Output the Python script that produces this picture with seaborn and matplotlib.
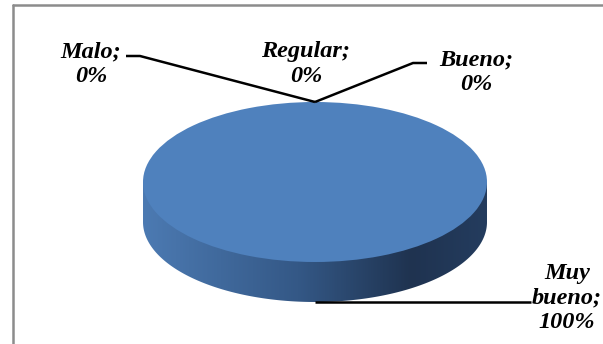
import numpy as np
import matplotlib
matplotlib.use("Agg")
import matplotlib.pyplot as plt
import seaborn as sns
from matplotlib.patches import Polygon
from matplotlib.lines import Line2D
from matplotlib.colors import LinearSegmentedColormap

categories = ["Malo", "Regular", "Bueno", "Muy bueno"]
values = [0, 0, 0, 100]
percent_labels = ["0%", "0%", "0%", "100%"]

sns.set_theme(style="white")
plt.rcParams['font.family'] = ['Liberation Serif', 'DejaVu Serif']

W, H = 603, 344
fig = plt.figure(figsize=(W / 100, H / 100), dpi=100)
fig.patch.set_facecolor("white")
ax = fig.add_axes([0, 0, 1, 1])

cx, cy, rx, ry, depth = 315, 182, 172, 80, 40
d = depth / ry


def px(x, y):
    return ((x - cx) / rx, (cy - y) / ry)


blue = "#4F81BD"
wedges, _ = ax.pie(values, colors=[blue] * len(values), startangle=90,
                   counterclock=False, radius=1, center=(0, 0),
                   wedgeprops=dict(linewidth=0))
for w in wedges:
    w.set_zorder(3)

ax.set_aspect("auto")
ax.axis("off")

# 3D side of the pie
theta = np.linspace(np.pi, 2 * np.pi, 300)
arc = np.column_stack([np.cos(theta), np.sin(theta) - d])
pts = np.vstack([[[-1, 0]], arc, [[1, 0]]])
side = Polygon(pts, closed=True, facecolor="none", edgecolor="none")
ax.add_patch(side)
cmap = LinearSegmentedColormap.from_list(
    "side",
    [(0.0, (76/255, 122/255, 178/255)),
     (0.45, (52/255, 88/255, 134/255)),
     (0.78, (31/255, 51/255, 80/255)),
     (1.0, (36/255, 60/255, 94/255))])
grad = np.linspace(0, 1, 400).reshape(1, -1)
im = ax.imshow(grad, cmap=cmap, extent=(-1, 1, -1 - d, 0), aspect="auto",
               zorder=2, interpolation="bilinear")
im.set_clip_path(side)
ax.set_xlim((0 - cx) / rx, (W - cx) / rx)
ax.set_ylim((cy - H) / ry, (cy - 0) / ry)

# leader lines
lk = dict(color="black", lw=1.8, zorder=4, solid_capstyle="butt")
top = (0, 1)
p1, p2 = px(126, 56), px(140, 56)
ax.plot([p1[0], p2[0], top[0]], [p1[1], p2[1], top[1]], **lk)
p3, p4 = px(413, 63), px(427, 63)
ax.plot([top[0], p3[0], p4[0]], [top[1], p3[1], p4[1]], **lk)
bot = (0, -1 - d)
p5 = px(531, 0)
ax.plot([bot[0], p5[0]], [bot[1], bot[1]], **lk)

# labels
tk = dict(fontsize=17.5, fontweight="bold", fontstyle="italic", color="black",
          ha="center", va="center", linespacing=1.22, zorder=5)
label_pos = [(91, 64), (306, 64), (476, 72), (567, 298)]
for cat, pl, (lx, ly) in zip(categories, percent_labels, label_pos):
    if cat == "Muy bueno":
        txt = "Muy\nbueno;\n" + pl
    else:
        txt = cat + ";\n" + pl
    x, y = px(lx, ly)
    ax.text(x, y, txt, **tk)

# chart border
gray = "#8C8C8C"
fig.add_artist(Line2D([12.5 / W, 12.5 / W], [0, 1 - 5 / H], color=gray, lw=1.8,
                      transform=fig.transFigure))
fig.add_artist(Line2D([12.5 / W, 1], [1 - 5 / H, 1 - 5 / H], color=gray, lw=1.8,
                      transform=fig.transFigure))

fig.savefig("out.png", dpi=100, facecolor="white")
